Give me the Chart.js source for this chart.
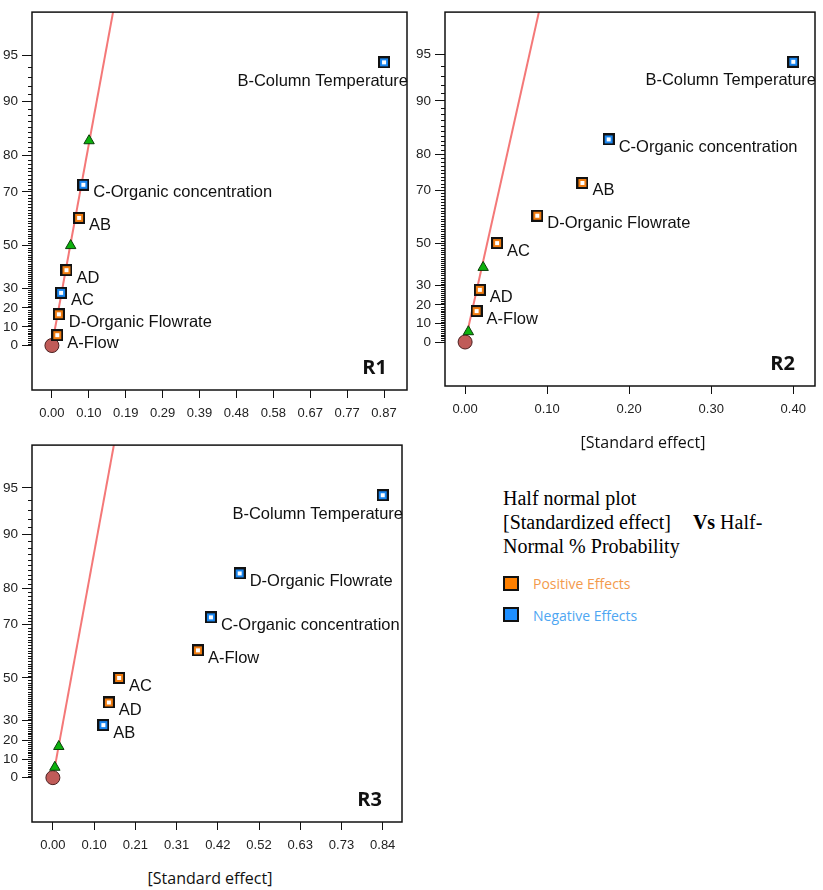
<!DOCTYPE html>
<html>
<head>
<meta charset="utf-8">
<script src="https://cdn.jsdelivr.net/npm/chart.js@4.4.1/dist/chart.umd.min.js"></script>
<style>
  body { margin: 0; background: #fff; width: 823px; height: 890px; position: relative; overflow: hidden; }
  .panel { position: absolute; }
  .axis-title { position: absolute; font: 16px "Open Sans"; color: #111; transform: translate(-50%, -50%); white-space: nowrap; }
  #note { position: absolute; left: 503px; top: 486px; font: 20px "Liberation Serif"; line-height: 24px; color: #000; white-space: nowrap; }
  .key { position: absolute; left: 503px; width: 16px; height: 15px; border: 2px solid #111; box-sizing: border-box; }
  .key-text { position: absolute; left: 533px; font: 14px "Open Sans"; line-height: 16px; }
</style>
</head>
<body>
<div class="panel" style="left:0;top:0"><canvas id="r1" width="415" height="430"></canvas></div>
<div class="panel" style="left:413px;top:0"><canvas id="r2" width="410" height="430"></canvas></div>
<div class="panel" style="left:0;top:433px"><canvas id="r3" width="415" height="430"></canvas></div>

<div class="axis-title" style="left:643px;top:442px">[Standard effect]</div>
<div class="axis-title" style="left:210px;top:878px">[Standard effect]</div>

<div id="note">Half normal plot<br>[Standardized effect]<span style="margin-left:22px;font-weight:bold">Vs</span> Half-<br>Normal % Probability</div>
<div class="key" style="top:576px;background:#ff8000"></div>
<div class="key-text" style="top:576px;color:#f39a4c">Positive Effects</div>
<div class="key" style="top:607px;background:#1e8fff"></div>
<div class="key-text" style="top:608px;color:#4ea6f2">Negative Effects</div>

<script>
// half-normal % probability ticks (same for the three panels)
const probTicks = [0, 10, 20, 30, 50, 70, 80, 90, 95];

// R1
const terms1 = ["A-Flow", "D-Organic Flowrate", "AC", "AD", "AB", "C-Organic concentration", "B-Column Temperature"];
const effects1 = [0.014, 0.018, 0.024, 0.038, 0.071, 0.082, 0.867];
const probs1 = [5.6, 16.7, 27.8, 38.9, 61.1, 72.2, 94.4];
const signs1 = ["+", "+", "-", "+", "+", "-", "-"];
const errEffects1 = [0.049, 0.097];
const errProbs1 = [50.0, 83.3];
const xTickLabels1 = ["0.00", "0.10", "0.19", "0.29", "0.39", "0.48", "0.58", "0.67", "0.77", "0.87"];
const xTickMax1 = 0.867;
const fitLine1 = [[0, 0], [0.165, 98]];

// R2
const terms2 = ["A-Flow", "AD", "AC", "D-Organic Flowrate", "AB", "C-Organic concentration", "B-Column Temperature"];
const effects2 = [0.014, 0.018, 0.039, 0.088, 0.143, 0.175, 0.400];
const probs2 = [16.7, 27.8, 50.0, 61.1, 72.2, 83.3, 94.4];
const signs2 = ["+", "+", "+", "+", "+", "-", "-"];
const errEffects2 = [0.004, 0.022];
const errProbs2 = [5.6, 38.9];
const xTickLabels2 = ["0.00", "0.10", "0.20", "0.30", "0.40"];
const xTickMax2 = 0.40;
const fitLine2 = [[0, 0], [0.093, 98]];

// R3
const terms3 = ["AB", "AD", "AC", "A-Flow", "C-Organic concentration", "D-Organic Flowrate", "B-Column Temperature"];
const effects3 = [0.128, 0.142, 0.168, 0.368, 0.401, 0.474, 0.837];
const probs3 = [27.8, 38.9, 50.0, 61.1, 72.2, 83.3, 94.4];
const signs3 = ["-", "+", "+", "+", "-", "-", "-"];
const errEffects3 = [0.005, 0.015];
const errProbs3 = [5.6, 16.7];
const xTickLabels3 = ["0.00", "0.10", "0.21", "0.31", "0.42", "0.52", "0.63", "0.73", "0.84"];
const xTickMax3 = 0.837;
const fitLine3 = [[0, 0], [0.160, 98]];

Chart.defaults.font.family = "Liberation Sans";
Chart.defaults.color = "#111";

// inverse normal cdf (Acklam)
function probit(p) {
  const a = [-39.69683028665376, 220.9460984245205, -275.9285104469687, 138.3577518672690, -30.66479806614716, 2.506628277459239];
  const b = [-54.47609879822406, 161.5858368580409, -155.6989798598866, 66.80131188771972, -13.28068155288572];
  const c = [-0.007784894002430293, -0.3223964580411365, -2.400758277161838, -2.549732539343734, 4.374664141464968, 2.938163982699436];
  const d = [0.007784695709041462, 0.3224671290700398, 2.445134137142996, 3.754408661907416];
  if (p < 0.02425) {
    const q = Math.sqrt(-2 * Math.log(p));
    return (((((c[0] * q + c[1]) * q + c[2]) * q + c[3]) * q + c[4]) * q + c[5]) / ((((d[0] * q + d[1]) * q + d[2]) * q + d[3]) * q + 1);
  }
  if (p > 1 - 0.02425) return -probit(1 - p);
  const q = p - 0.5, r = q * q;
  return (((((a[0] * r + a[1]) * r + a[2]) * r + a[3]) * r + a[4]) * r + a[5]) * q / (((((b[0] * r + b[1]) * r + b[2]) * r + b[3]) * r + b[4]) * r + 1);
}

// half-normal % probability -> axis position
function hn(pct) {
  return probit(0.5 + pct / 200);
}

function squareMarker(color) {
  const c = document.createElement("canvas");
  c.width = 12;
  c.height = 12;
  const g = c.getContext("2d");
  g.fillStyle = "#111";
  g.fillRect(0, 0, 12, 12);
  g.fillStyle = color;
  g.fillRect(2, 2, 8, 8);
  g.fillStyle = "#fff";
  g.fillRect(4, 4, 4, 4);
  return c;
}
const posMarker = squareMarker("#f07c10");
const negMarker = squareMarker("#1a86ef");

// box, minor ticks, point labels and panel name
const panelDecor = {
  id: "panelDecor",
  afterDraw(chart, args, opts) {
    const ctx = chart.ctx;
    const area = chart.chartArea;
    const xs = chart.scales.x;
    const ys = chart.scales.y;
    ctx.save();
    ctx.strokeStyle = "#111";
    ctx.lineWidth = 1.5;
    ctx.strokeRect(area.left, area.top, area.right - area.left, area.bottom - area.top);

    ctx.lineWidth = 1;
    ctx.beginPath();
    for (let p = 1; p < 95; p++) {
      if (probTicks.includes(p)) continue;
      const y = Math.round(ys.getPixelForValue(hn(p))) + 0.5;
      ctx.moveTo(area.left - 4, y);
      ctx.lineTo(area.left, y);
    }
    ctx.stroke();

    ctx.fillStyle = "#111";
    ctx.font = "16.5px 'Liberation Sans'";
    ctx.textBaseline = "middle";
    opts.terms.forEach((t, i) => {
      const px = xs.getPixelForValue(opts.effects[i]);
      const py = ys.getPixelForValue(hn(opts.probs[i]));
      if (i === opts.terms.length - 1) {
        ctx.textAlign = "right";
        ctx.fillText(t, area.right + 1, py + 19);
      } else {
        ctx.textAlign = "left";
        ctx.fillText(t, px + 10, py + 8);
      }
    });

    ctx.font = "bold 20px 'Open Sans'";
    ctx.textAlign = "right";
    ctx.fillText(opts.name, area.right - 20, area.bottom - 22);
    ctx.restore();
  }
};

function makePanel(id, name, terms, effects, probs, signs, errEffects, errProbs, xLabels, xMax, xMin, xLimit, fit, padding) {
  const n = xLabels.length;
  new Chart(document.getElementById(id), {
    type: "scatter",
    data: {
      datasets: [
        {
          type: "line",
          data: fit.map(f => ({ x: f[0], y: hn(f[1]) })),
          borderColor: "#f47878",
          borderWidth: 2,
          pointRadius: 0,
          order: 10
        },
        {
          data: effects.map((e, i) => ({ x: e, y: hn(probs[i]) })),
          pointStyle: ctx => (signs[ctx.dataIndex] === "+" ? posMarker : negMarker),
          order: 2
        },
        {
          data: errEffects.map((e, i) => ({ x: e, y: hn(errProbs[i]) })),
          pointStyle: "triangle",
          pointRadius: 6,
          backgroundColor: "#0db10d",
          borderColor: "#0b3d0b",
          borderWidth: 1,
          order: 1
        },
        {
          data: [{ x: 0, y: hn(0) }],
          pointStyle: "circle",
          pointRadius: 7,
          backgroundColor: "#c05b58",
          borderColor: "#4a2020",
          borderWidth: 1,
          order: 3
        }
      ]
    },
    options: {
      responsive: false,
      animation: false,
      events: [],
      layout: { padding: padding },
      plugins: {
        legend: { display: false },
        tooltip: { enabled: false },
        panelDecor: { name: name, terms: terms, effects: effects, probs: probs }
      },
      scales: {
        x: {
          type: "linear",
          min: xMin,
          max: xLimit,
          afterBuildTicks: s => { s.ticks = xLabels.map((l, i) => ({ value: i * xMax / (n - 1) })); },
          afterFit: s => { s.height = 35; },
          ticks: {
            autoSkip: false,
            maxRotation: 0,
            padding: 8,
            font: { size: 13 },
            color: "#222",
            callback: (v, i) => xLabels[i]
          },
          grid: { drawOnChartArea: false, drawTicks: true, tickLength: 8, color: "#111" },
          border: { display: false }
        },
        y: {
          type: "linear",
          min: -0.30,
          max: 2.25,
          afterBuildTicks: s => { s.ticks = probTicks.map(p => ({ value: hn(p) })); },
          afterFit: s => { s.width = 32; },
          ticks: {
            autoSkip: false,
            padding: 4,
            font: { size: 13.5 },
            color: "#222",
            callback: (v, i) => String(probTicks[i])
          },
          grid: { drawOnChartArea: false, drawTicks: true, tickLength: 10, color: "#111" },
          border: { display: false }
        }
      }
    },
    plugins: [panelDecor]
  });
}

makePanel("r1", "R1", terms1, effects1, probs1, signs1, errEffects1, errProbs1, xTickLabels1, xTickMax1, -0.052, 0.927, fitLine1, { top: 5, right: 8, bottom: 5, left: 0 });
makePanel("r2", "R2", terms2, effects2, probs2, signs2, errEffects2, errProbs2, xTickLabels2, xTickMax2, -0.0245, 0.4265, fitLine2, { top: 3, right: 4, bottom: 9, left: 0 });
makePanel("r3", "R3", terms3, effects3, probs3, signs3, errEffects3, errProbs3, xTickLabels3, xTickMax3, -0.053, 0.886, fitLine3, { top: 5, right: 13, bottom: 6, left: 0 });
</script>
</body>
</html>
